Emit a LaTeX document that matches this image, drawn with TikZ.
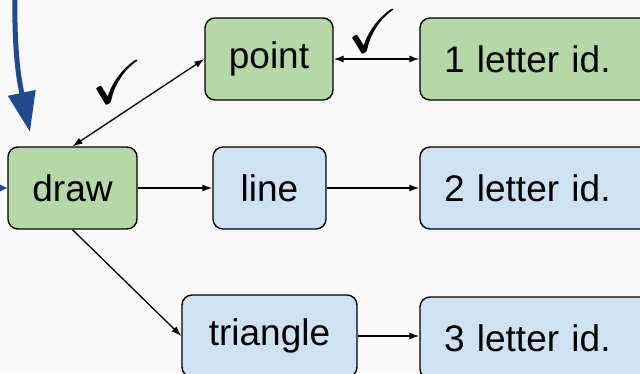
\documentclass[tikz,border=0pt]{standalone}
\usepackage{amssymb}
\usepackage{fontspec}
\setmainfont{Liberation Sans}
\usepackage{tikz}
\usetikzlibrary{arrows.meta,positioning}
\definecolor{boxgreen}{HTML}{B6D7A8}
\definecolor{boxblue}{HTML}{CFE2F3}
\definecolor{darkblue}{HTML}{1F4A8F}
\definecolor{bgray}{HTML}{F9F9F9}

\begin{document}
\begin{tikzpicture}
[x=1pt,y=-1pt,>={Latex[length=10pt,width=7pt]},
box/.style = {draw, line width=1.4pt, rounded corners=10pt, inner sep=0pt, minimum height=82pt, font=\fontsize{37}{40}\selectfont},
greenbox/.style = {box, fill=boxgreen},
bluebox/.style = {box, fill=boxblue},
idbox/.style = {box, text width=200pt, align=left, inner xsep=24pt},
link/.style = {line width=1.3pt},
tick/.style = {inner sep=0pt, font=\fontsize{62}{62}\selectfont},]
\fill[bgray] (0,0) rectangle (640,373);
\useasboundingbox (0,0) rectangle (640,373);
\node (cmd) at (72.5,188)[greenbox,minimum width=129pt] {draw};
\node (point) at (269,59)[greenbox,minimum width=128pt] {point};
\node (line) at (269.5,188)[bluebox,minimum width=113pt] {line};
\node (triangle) at (269.5,336)[bluebox,minimum width=175pt] {triangle};
\node (one) at (544,59)[idbox,fill=boxgreen] {1 letter id.};
\node (two) at (544,188)[idbox,fill=boxblue] {2 letter id.};
\node (three) at (544,338)[idbox,fill=boxblue] {3 letter id.};
\node (tick1) at (117,82)[tick] {$\checkmark$};
\node (tick2) at (373,31)[tick] {$\checkmark$};
\draw[link,<->] (cmd.north) -- (point.west);
\draw[link,->] (cmd) -- (line);
\draw[link,->] (cmd.south) -- (triangle.west);
\draw[link,<->] (point) -- (one);
\draw[link,->] (line) -- (two);
\draw[link,->] (triangle.east) -- (three.west |- triangle.east);
% incoming arrows
\coordinate (top) at (15,-4);
\coordinate (left) at (-30,188);
\draw[darkblue,line width=5pt,-{Triangle[length=40pt,width=27pt]}] (top) .. controls (14,50) and (19,80) .. (30,132);
\draw[darkblue,line width=1.5pt,-{Triangle[length=8pt,width=7pt]}] (left) -- (cmd.west);
\end{tikzpicture}
\end{document}
